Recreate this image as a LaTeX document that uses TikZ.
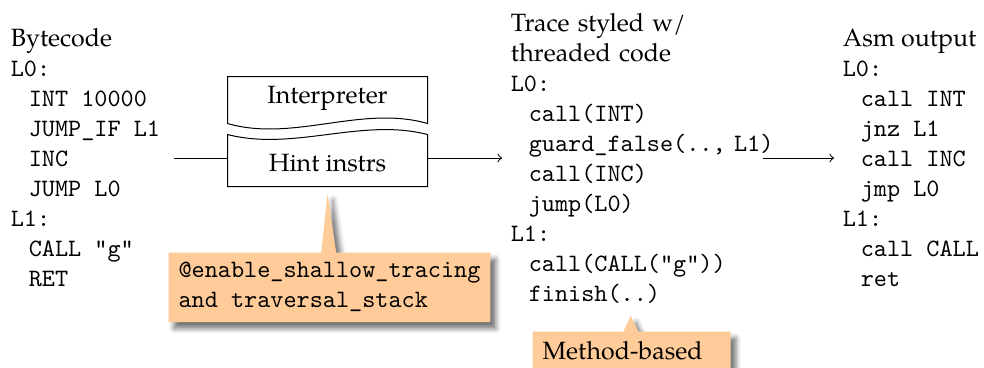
\documentclass[tikz,border=0pt]{standalone}
\usepackage{fontspec}
\setmainfont{TeX Gyre Pagella}
\usetikzlibrary{shapes.callouts,shadows.blur,calc}
\newcommand\cln[1]{\mbox{\texttt{#1}}}
\newcommand\cin[1]{\mbox{\hspace*{7.2pt}\texttt{#1}}}
\begin{document}
\begin{tikzpicture}[x=0.4pt,y=-0.4pt,
  txt/.style={font=\fontsize{10}{12}\selectfont},
  col/.style={txt,align=left,anchor=west,inner sep=3.33pt},
  tapebox/.style={minimum width=79.6pt,inner sep=0pt},
  lbl/.style={txt,anchor=base,inner sep=0pt},
  note/.style={rectangle callout,fill=orange!40,
    blur shadow={shadow xshift=2.2pt,shadow yshift=-2.6pt,shadow blur radius=2pt,shadow opacity=55},
    inner sep=4pt,anchor=north west,align=left,callout pointer width=6pt}]
\useasboundingbox (0,0) rectangle (984,367);

% columns
\node[col] (byte) at (2,158) {Bytecode\\\cln{L0:}\\\cin{INT 10000}\\\cin{JUMP\_IF L1}\\\cin{INC}\\\cin{JUMP L0}\\\cln{L1:}\\\cin{CALL "g"}\\\cin{RET}};
\node[col,text width=97.4pt] (trace) at (502,158) {Trace styled w/\\threaded code\\\cln{L0:}\\\cin{call(INT)}\\\cin{guard\_false(.., L1)}\\\cin{call(INC)}\\\cin{jump(L0)}\\\cln{L1:}\\\cin{call(CALL("g"))}\\\cin{finish(..)}};
\node[col] (asm) at (834,158) {Asm output\\\cln{L0:}\\\cin{call INT}\\\cin{jnz L1}\\\cin{call INC}\\\cin{jmp L0}\\\cln{L1:}\\\cin{call CALL}\\\cin{ret}};

% tape boxes
\node[tapebox,minimum height=18.4pt] (interp) at (327.5,100) {};
\node[tapebox,minimum height=20.4pt] (hint) at (327.5,160.5) {};
\node[lbl] (interpt) at (327.5,103) {Interpreter};
\node[lbl] (hintt) at (327.5,171.5) {Hint instrs};
\draw (interp.south west) -- (interp.north west) -- (interp.north east) -- (interp.south east)
  .. controls ($(interp.south east)+(-66,-19)$) and ($(interp.south west)+(66,19)$) .. (interp.south west);
\draw (hint.north west) .. controls ($(hint.north west)+(66,17)$) and ($(hint.north east)+(-66,-17)$) .. (hint.north east)
  -- (hint.south east) -- (hint.south west) -- cycle;

% connectors
\draw[shorten <=2pt] (byte.east) -- (byte.east -| hint.west);
\draw[->] (byte.east -| hint.east) -- (trace.west);
\draw[->] (trace.east) -- (asm.west);

% callouts
\node[note,txt,
  callout absolute pointer={($(hint.south)+(0,7)$)}] (n1) at (168,252)
  {\texttt{@enable\_shallow\_tracing}\\\texttt{and traversal\_stack}};
\node[note,txt,text width=71.2pt,
  callout absolute pointer={($(trace.south)+(-2,4)$)}] (n2) at (532,331) {Method-based};
\end{tikzpicture}
\end{document}
